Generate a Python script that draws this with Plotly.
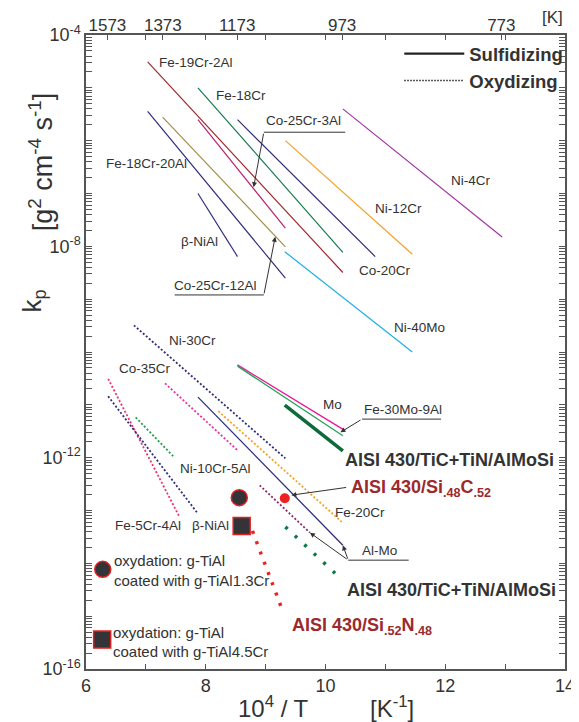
import numpy as np
import plotly.graph_objects as go

# ---------------- data (x = 10^4/T [1/K], y = kp [g^2 cm^-4 s^-1]) ----------------
sulf_names = ["Fe-19Cr-2Al", "Fe-18Cr", "Co-25Cr-3Al", "Co-20Cr (navy)", "Ni-12Cr", "Ni-4Cr",
              "Ni-40Mo", "Fe-18Cr-20Al", "Co-25Cr-12Al", "b-NiAl", "Mo", "Fe-30Mo-9Al",
              "AISI 430/TiC+TiN/AlMoSi", "Al-Mo"]
sulf_x = [[7.03, 10.29], [7.87, 10.29], [7.87, 9.33], [8.53, 10.83], [9.33, 11.45], [10.29, 12.95],
          [9.32, 11.45], [7.03, 9.33], [7.28, 9.33], [7.87, 8.53], [8.53, 10.30], [8.53, 10.29],
          [9.32, 10.29], [7.87, 10.29]]
sulf_kp = [[3.1e-5, 3.2e-9], [1.0e-5, 7.7e-9], [2.5e-6, 2.2e-8], [2.5e-6, 6.4e-9], [1.0e-6, 7.1e-9],
           [4.0e-6, 1.5e-8], [7.9e-9, 1.0e-10], [3.6e-6, 2.5e-9], [2.8e-6, 9.8e-9], [1.0e-7, 6.4e-9],
           [5.7e-11, 3.4e-12], [5.4e-11, 2.6e-12], [9.9e-12, 1.35e-12], [1.4e-11, 2.2e-14]]

oxid_names = ["Ni-30Cr", "Co-35Cr", "Fe-5Cr-4Al", "b-NiAl", "Ni-10Cr-5Al", "Fe-20Cr", "Al-Mo",
              "AISI 430/Si.52N.48", "AISI 430/TiC+TiN/AlMoSi"]
oxid_x = [[6.80, 9.33], [7.32, 8.53], [6.37, 7.56], [6.37, 7.87], [6.83, 7.48], [8.21, 10.27],
          [8.90, 9.74], [8.78, 9.28], [9.33, 10.16]]
oxid_kp = [[3.2e-10, 9.7e-13], [2.55e-11, 1.38e-12], [3.1e-11, 7.6e-14], [1.45e-11, 8.7e-14],
           [5.8e-12, 1.0e-12], [7.6e-12, 6.1e-14], [3.0e-13, 3.8e-14], [4.1e-14, 1.3e-15],
           [4.9e-14, 6.5e-15]]

point_names = ["AISI 430/Si.48C.52 (sulf.)", "g-TiAl1.3Cr", "g-TiAl4.5Cr", "key circle", "key square"]
point_x = [9.32, 8.56, 8.60, 6.28, 6.27]
point_kp = [1.7e-13, 1.75e-13, 5.1e-14, 7.7e-15, 3.6e-16]

temps_K = [1573, 1373, 1173, 973, 773]
x_major = [6, 8, 10, 12, 14]
x_minor = [7, 9, 11, 13]
y_label_exps = [-4, -8, -12, -16]
y_decade_exps = [-5, -6, -7, -9, -10, -11, -13, -14, -15]

# ---------------- styles ----------------
sulf_style = [("#a3282c", 1.2), ("#137a4c", 1.2), ("#b8246f", 1.2), ("#2e2e7e", 1.2),
              ("#f6a024", 1.2), ("#a233a6", 1.2), ("#1eaee8", 1.2), ("#2e2e7e", 1.2),
              ("#a38f45", 1.2), ("#2e2e7e", 1.2), ("#e8199a", 1.3), ("#22a455", 1.3),
              ("#0c6b3b", 3.5), ("#2e2e7e", 1.3)]
oxid_style = [("#2e2e7e", 1.8, "2px,2px"), ("#e8349a", 1.8, "2px,2px"), ("#f0306e", 1.8, "2px,2px"),
              ("#2e2e7e", 1.8, "2px,2px"), ("#20a050", 1.8, "2px,2px"), ("#f6a024", 1.8, "2px,2px"),
              ("#8a2a6a", 1.8, "2px,2px"), ("#ee2020", 3.5, "3px,8px"), ("#0b7a45", 3.5, "3px,10px")]
point_style = [dict(symbol="circle", size=10, color="#ee2020", line=dict(width=0)),
               dict(symbol="circle", size=16, color="#333338", line=dict(color="#e02020", width=1.5)),
               dict(symbol="square", size=17, color="#333338", line=dict(color="#e02020", width=1.5)),
               dict(symbol="circle", size=16, color="#333338", line=dict(color="#e02020", width=1.5)),
               dict(symbol="square", size=17, color="#333338", line=dict(color="#e02020", width=1.5))]

FONT = "Liberation Sans, Arial, sans-serif"
TXT = "#333333"
AX = "#555555"

fig = go.Figure()
for n, xs, ys, (c, w) in zip(sulf_names, sulf_x, sulf_kp, sulf_style):
    fig.add_trace(go.Scatter(x=xs, y=ys, mode="lines", name=n, showlegend=False,
                             line=dict(color=c, width=w), hoverinfo="skip"))
for n, xs, ys, (c, w, d) in zip(oxid_names, oxid_x, oxid_kp, oxid_style):
    fig.add_trace(go.Scatter(x=xs, y=ys, mode="lines", name=n, showlegend=False,
                             line=dict(color=c, width=w, dash=d), hoverinfo="skip"))
for n, xv, yv, st in zip(point_names, point_x, point_kp, point_style):
    fig.add_trace(go.Scatter(x=[xv], y=[yv], mode="markers", name=n, showlegend=False,
                             marker=st, hoverinfo="skip"))

# legend entries
fig.add_trace(go.Scatter(x=[None], y=[None], mode="lines", name="<b>Sulfidizing</b>",
                         line=dict(color="#222", width=2.2)))
fig.add_trace(go.Scatter(x=[None], y=[None], mode="lines", name="<b>Oxydizing</b>",
                         line=dict(color="#222", width=1.5, dash="1.5px,1.5px")))
# carrier traces for the top temperature axis and the unlabelled decade ticks
fig.add_trace(go.Scatter(x=[None], y=[None], xaxis="x2", showlegend=False, hoverinfo="skip"))
fig.add_trace(go.Scatter(x=[None], y=[None], yaxis="y2", showlegend=False, hoverinfo="skip"))

# ---------------- annotation positions (x, log10 y) ----------------
labels = [("Fe-19Cr-2Al", 7.84, -4.52), ("Fe-18Cr", 8.59, -5.14), ("Co-25Cr-3Al", 9.64, -5.61),
          ("Fe-18Cr-20Al", 7.01, -6.43), ("β-NiAl", 7.89, -7.91), ("Co-25Cr-12Al", 8.17, -8.75),
          ("Co-20Cr", 11.0, -8.45), ("Ni-12Cr", 11.22, -7.29), ("Ni-4Cr", 12.43, -6.75),
          ("Ni-40Mo", 11.57, -9.53), ("Ni-30Cr", 7.78, -9.79), ("Co-35Cr", 6.98, -10.32),
          ("Ni-10Cr-5Al", 8.16, -12.20), ("Mo", 10.12, -10.99), ("Fe-30Mo-9Al", 11.30, -11.09),
          ("Fe-20Cr", 10.58, -13.04), ("Fe-5Cr-4Al", 7.04, -13.28), ("β-NiAl", 8.08, -13.28),
          ("Al-Mo", 10.90, -13.76)]
big_labels = [("AISI 430/TiC+TiN/AlMoSi", 10.30, -12.05, TXT),
              ("AISI 430/Si<sub>.48</sub>C<sub>.52</sub>", 10.40, -12.59, "#9b2a2e"),
              ("AISI 430/TiC+TiN/AlMoSi", 10.32, -14.51, TXT),
              ("AISI 430/Si<sub>.52</sub>N<sub>.48</sub>", 9.41, -15.20, "#9b2a2e")]
key_labels = [("oxydation: g-TiAl", 6.44, -13.95), ("coated with g-TiAl1.3Cr", 6.44, -14.32),
              ("oxydation: g-TiAl", 6.41, -15.30), ("coated with g-TiAl4.5Cr", 6.41, -15.67)]
underlines = [(8.97, 10.33, -5.84), (7.48, 8.97, -8.92), (10.61, 11.93, -11.27), (10.38, 11.39, -13.94)]
arrows = [(8.97, -5.84, 8.80, -6.88), (8.97, -8.92, 9.16, -7.82), (10.61, -11.27, 10.25, -11.52),
          (10.37, -12.56, 9.43, -12.71), (10.38, -13.94, 10.29, -13.66), (10.38, -13.94, 9.74, -13.42)]

ann = []
for t, x, ly in labels:
    ann.append(dict(x=x, y=ly, text=t, showarrow=False, font=dict(size=13.5, color=TXT, family=FONT)))
for t, x, ly, c in big_labels:
    ann.append(dict(x=x, y=ly, text="<b>" + t + "</b>", showarrow=False, xanchor="left",
                    font=dict(size=18, color=c, family=FONT)))
for t, x, ly in key_labels:
    ann.append(dict(x=x, y=ly, text=t, showarrow=False, xanchor="left",
                    font=dict(size=15, color=TXT, family=FONT)))
for tx, tly, hx, hly in arrows:
    ann.append(dict(x=hx, y=hly, ax=tx, ay=tly, axref="x", ayref="y", text="", showarrow=True,
                    arrowhead=2, arrowsize=1, arrowwidth=1, arrowcolor="#333", standoff=0))
for x0, x1, ly in underlines:
    fig.add_trace(go.Scatter(x=[x0, x1], y=[10 ** ly, 10 ** ly], mode="lines", showlegend=False,
                             line=dict(color="#333", width=1), hoverinfo="skip"))

# axis titles / extra texts (paper coords)
ann += [
    dict(xref="paper", yref="paper", x=-0.095, y=0.80, xanchor="center", yanchor="middle",
         text="[g<sup>2</sup> cm<sup>-4</sup> s<sup>-1</sup>]",
         textangle=-90, showarrow=False, font=dict(size=27, color=TXT, family=FONT)),
    dict(xref="paper", yref="paper", x=-0.11, y=0.58, xanchor="center", yanchor="middle",
         text="k<sub>p</sub>",
         textangle=-90, showarrow=False, font=dict(size=26, color=TXT, family=FONT)),
    dict(xref="paper", yref="paper", x=0.392, y=-0.06, xanchor="center", yanchor="middle",
         text="10<sup>4</sup> / T",
         showarrow=False, font=dict(size=24, color=TXT, family=FONT)),
    dict(xref="paper", yref="paper", x=0.639, y=-0.06, xanchor="center", yanchor="middle",
         text="[K<sup>-1</sup>]",
         showarrow=False, font=dict(size=24, color=TXT, family=FONT)),
    dict(xref="paper", yref="paper", x=0.973, y=1.028, xanchor="center", yanchor="middle",
         text="[K]",
         showarrow=False, font=dict(size=17, color=TXT, family=FONT)),
]

minor_y = [k * 10.0 ** e for e in range(-16, -4) for k in range(2, 10)]

# the page body adds an 8 px offset, so the figure is 8 px smaller and margins compensate
fig.update_layout(
    width=571, height=714,
    margin=dict(l=78, r=11, t=27, b=53),
    paper_bgcolor="white", plot_bgcolor="white",
    font=dict(family=FONT, color=TXT),
    annotations=ann,
    showlegend=True,
    legend=dict(x=0.654, y=1.0, xanchor="left", yanchor="top", bgcolor="rgba(0,0,0,0)",
                font=dict(size=18.5, color=TXT, family=FONT), itemwidth=60, tracegroupgap=0),
    xaxis=dict(range=[6, 14], tickvals=x_major, ticktext=[str(v) for v in x_major], automargin=False,
               ticks="inside", ticklen=5, tickcolor=AX, showline=True, linecolor=AX,
               linewidth=1.5, mirror="allticks", showgrid=False, zeroline=False,
               tickfont=dict(size=18, color=TXT),
               minor=dict(tickvals=x_minor, ticks="inside", ticklen=5, tickcolor=AX, showgrid=False)),
    xaxis2=dict(range=[6, 14], overlaying="x", side="top", tickvals=[1e4 / t for t in temps_K],
                ticktext=[str(t) for t in temps_K], ticks="inside", ticklen=5, tickcolor=AX,
                automargin=False,
                showgrid=False, zeroline=False, showline=False, tickfont=dict(size=17, color=TXT)),
    yaxis=dict(type="log", range=[-16, -4], automargin=False,
               tickvals=[10.0 ** e for e in y_label_exps],
               ticktext=["10<sup>%d</sup>" % e for e in y_label_exps],
               ticks="inside", ticklen=6, tickcolor=AX, showline=True, linecolor=AX,
               linewidth=1.5, mirror="allticks", showgrid=False, zeroline=False,
               tickfont=dict(size=18, color=TXT),
               minor=dict(tickvals=minor_y, ticks="inside", ticklen=3, tickcolor=AX, showgrid=False)),
    yaxis2=dict(type="log", range=[-16, -4], overlaying="y", side="left", automargin=False,
                tickvals=[10.0 ** e for e in y_decade_exps], showticklabels=False,
                ticks="inside", ticklen=6, tickcolor=AX, showline=True, linecolor=AX,
                linewidth=1.5, mirror="allticks", showgrid=False, zeroline=False),
)

fig.write_html("out.html")
